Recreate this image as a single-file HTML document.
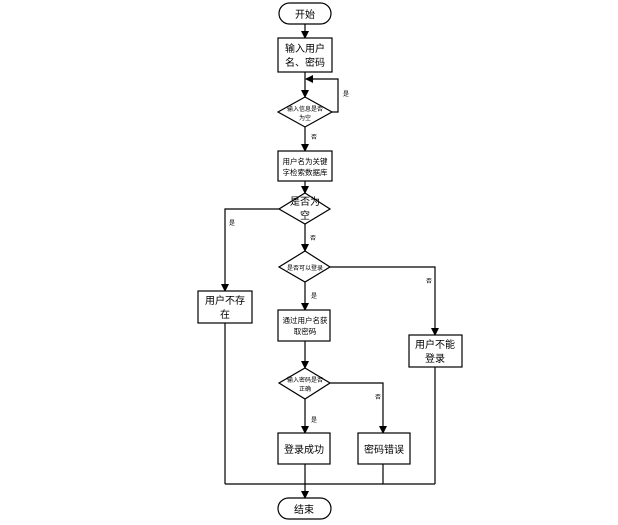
<!DOCTYPE html>
<html><head><meta charset="utf-8"><style>
html,body{margin:0;padding:0;background:#fff;}
svg{display:block;}
text{font-family:"Liberation Sans","Noto Sans CJK SC",sans-serif;fill:#000;}
</style></head><body>
<svg width="618" height="525" viewBox="0 0 618 525" xmlns="http://www.w3.org/2000/svg">
<defs>
<marker id="a" markerWidth="8" markerHeight="8" refX="7" refY="4" orient="auto" markerUnits="userSpaceOnUse">
<path d="M0,0 L8,4 L0,8 z" fill="#000"/></marker>
</defs>
<g stroke="#000" stroke-width="1.2" fill="none">
<!-- start -->
<rect x="279" y="3" width="52" height="21" rx="10.5" fill="#fff"/>
<line x1="305" y1="24" x2="305" y2="38" marker-end="url(#a)"/>
<rect x="278" y="38" width="54" height="34" fill="#fff"/>
<line x1="305" y1="72" x2="305" y2="97" marker-end="url(#a)"/>
<polygon points="305,97 332,112 305,127 278,112" fill="#fff"/>
<polyline points="332,112 338,112 338,79 306,79" marker-end="url(#a)"/>
<line x1="305" y1="127" x2="305" y2="151" marker-end="url(#a)"/>
<rect x="278" y="151" width="54" height="30" fill="#fff"/>
<line x1="305" y1="181" x2="305" y2="193" marker-end="url(#a)"/>
<polygon points="305,193 330,209 305,224 279,209" fill="#fff"/>
<polyline points="279,209 225,209 225,291" marker-end="url(#a)"/>
<rect x="198" y="291" width="54" height="32" fill="#fff"/>
<line x1="305" y1="224" x2="305" y2="251" marker-end="url(#a)"/>
<polygon points="305,251 330,267 305,282 279,267" fill="#fff"/>
<polyline points="330,267 435,267 435,335" marker-end="url(#a)"/>
<rect x="409" y="335" width="53" height="32" fill="#fff"/>
<line x1="305" y1="282" x2="305" y2="310" marker-end="url(#a)"/>
<rect x="278" y="310" width="52" height="31" fill="#fff"/>
<line x1="305" y1="341" x2="305" y2="368" marker-end="url(#a)"/>
<polygon points="305,368 330,383 305,399 279,383" fill="#fff"/>
<polyline points="330,383 383,383 383,433" marker-end="url(#a)"/>
<line x1="305" y1="399" x2="305" y2="433" marker-end="url(#a)"/>
<rect x="278" y="433" width="52" height="31" fill="#fff"/>
<rect x="358" y="433" width="52" height="31" fill="#fff"/>
<line x1="225" y1="323" x2="225" y2="484"/>
<line x1="435" y1="367" x2="435" y2="484"/>
<line x1="383" y1="464" x2="383" y2="484"/>
<line x1="225" y1="484" x2="435" y2="484"/>
<line x1="305" y1="464" x2="305" y2="498" marker-end="url(#a)"/>
<rect x="278" y="498" width="53" height="21" rx="10.5" fill="#fff"/>
</g>
<g font-size="10" text-anchor="middle">
<text x="305" y="18">开始</text>
<text x="305" y="52">输入用户</text>
<text x="305" y="66">名、密码</text>
<text x="305" y="111" font-size="6">输入信息是否</text>
<text x="305" y="120" font-size="6">为空</text>
<text x="305" y="164" font-size="7.5">用户名为关键</text>
<text x="305" y="175" font-size="7.5">字检索数据库</text>
<text x="305" y="205">是否为</text>
<text x="305" y="219">空</text>
<text x="305" y="270" font-size="6">是否可以登录</text>
<text x="305" y="323" font-size="7.5">通过用户名获</text>
<text x="305" y="334" font-size="7.5">取密码</text>
<text x="305" y="382" font-size="6">输入密码是否</text>
<text x="305" y="391" font-size="6">正确</text>
<text x="225" y="304">用户不存</text>
<text x="225" y="318">在</text>
<text x="435" y="348">用户不能</text>
<text x="435" y="362">登录</text>
<text x="304" y="453">登录成功</text>
<text x="384" y="453">密码错误</text>
<text x="304" y="513">结束</text>
<g font-size="6">
<text x="346" y="96">是</text>
<text x="314" y="139">否</text>
<text x="232" y="225">是</text>
<text x="313" y="240">否</text>
<text x="429" y="283">否</text>
<text x="314" y="298">是</text>
<text x="378" y="399">否</text>
<text x="314" y="422">是</text>
</g>
</g>
</svg>
</body></html>
